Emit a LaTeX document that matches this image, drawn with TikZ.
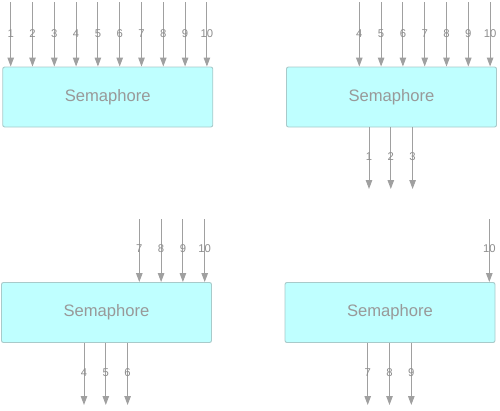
\documentclass[tikz,border=0pt]{standalone}
\usepackage{fontspec}
\setmainfont{Liberation Sans}
\usetikzlibrary{arrows.meta}
\definecolor{boxfill}{HTML}{BFFFFF}
\definecolor{boxline}{HTML}{A8CACA}
\definecolor{arrgray}{HTML}{A0A0A0}
\definecolor{txtgray}{HTML}{999999}
\definecolor{lblgray}{HTML}{8E8E8E}
\tikzset{
  sem/.style={draw=boxline, fill=boxfill, line width=0.9pt, rounded corners=2pt,
    minimum width=210pt, minimum height=60pt, inner sep=0pt,
    text=txtgray, font=\fontsize{16.6}{18}\selectfont},
  arr/.style={draw=arrgray, line width=1pt, -{Triangle[length=9pt,width=6.5pt]}},
  lbl/.style={text=lblgray, font=\fontsize{11.3}{13}\selectfont, inner sep=0pt}
}
\begin{document}
\begin{tikzpicture}[x=1pt,y=-1pt]
\useasboundingbox (0,0) rectangle (500,410);
% boxes
\node[sem] (b1) at (107.75,97) {Semaphore};
\node[sem] (b2) at (391.5,97) {Semaphore};
\node[sem] (b3) at (106.5,312.5) {Semaphore};
\node[sem] (b4) at (390,312.5) {Semaphore};
% box 1 inputs 1..10
\foreach \i in {1,...,10} {
  \pgfmathsetmacro{\xx}{10.7+21.8*(\i-1)}
  \coordinate (a1s\i) at (\xx,2);
  \draw[arr] (a1s\i) -- (a1s\i |- b1.north);
  \node[lbl] (a1l\i) at (\xx,34) {\i};
}
% box 2 inputs 4..10
\foreach \i in {4,...,10} {
  \pgfmathsetmacro{\xx}{359.3+21.8*(\i-4)}
  \coordinate (a2s\i) at (\xx,2);
  \draw[arr] (a2s\i) -- (a2s\i |- b2.north);
  \node[lbl] (a2l\i) at (\xx,34) {\i};
}
% box 2 outputs 1..3
\foreach \i in {1,2,3} {
  \pgfmathsetmacro{\xx}{369+21.8*(\i-1)}
  \coordinate (o2e\i) at (\xx,189);
  \draw[arr] (o2e\i |- b2.south) -- (o2e\i);
  \node[lbl] (o2l\i) at (\xx,157) {\i};
}
% box 3 inputs 7..10
\foreach \i in {7,...,10} {
  \pgfmathsetmacro{\xx}{139.3+21.8*(\i-7)}
  \coordinate (a3s\i) at (\xx,219);
  \draw[arr] (a3s\i) -- (a3s\i |- b3.north);
  \node[lbl] (a3l\i) at (\xx,249) {\i};
}
% box 3 outputs 4..6
\foreach \i in {4,5,6} {
  \pgfmathsetmacro{\xx}{84+21.8*(\i-4)}
  \coordinate (o3e\i) at (\xx,405);
  \draw[arr] (o3e\i |- b3.south) -- (o3e\i);
  \node[lbl] (o3l\i) at (\xx,373) {\i};
}
% box 4 input 10
\coordinate (a4s10) at (489.3,219);
\draw[arr] (a4s10) -- (a4s10 |- b4.north);
\node[lbl] (a4l10) at (489.3,249) {10};
% box 4 outputs 7..9
\foreach \i in {7,8,9} {
  \pgfmathsetmacro{\xx}{367.7+21.8*(\i-7)}
  \coordinate (o4e\i) at (\xx,405);
  \draw[arr] (o4e\i |- b4.south) -- (o4e\i);
  \node[lbl] (o4l\i) at (\xx,373) {\i};
}
\end{tikzpicture}
\end{document}
